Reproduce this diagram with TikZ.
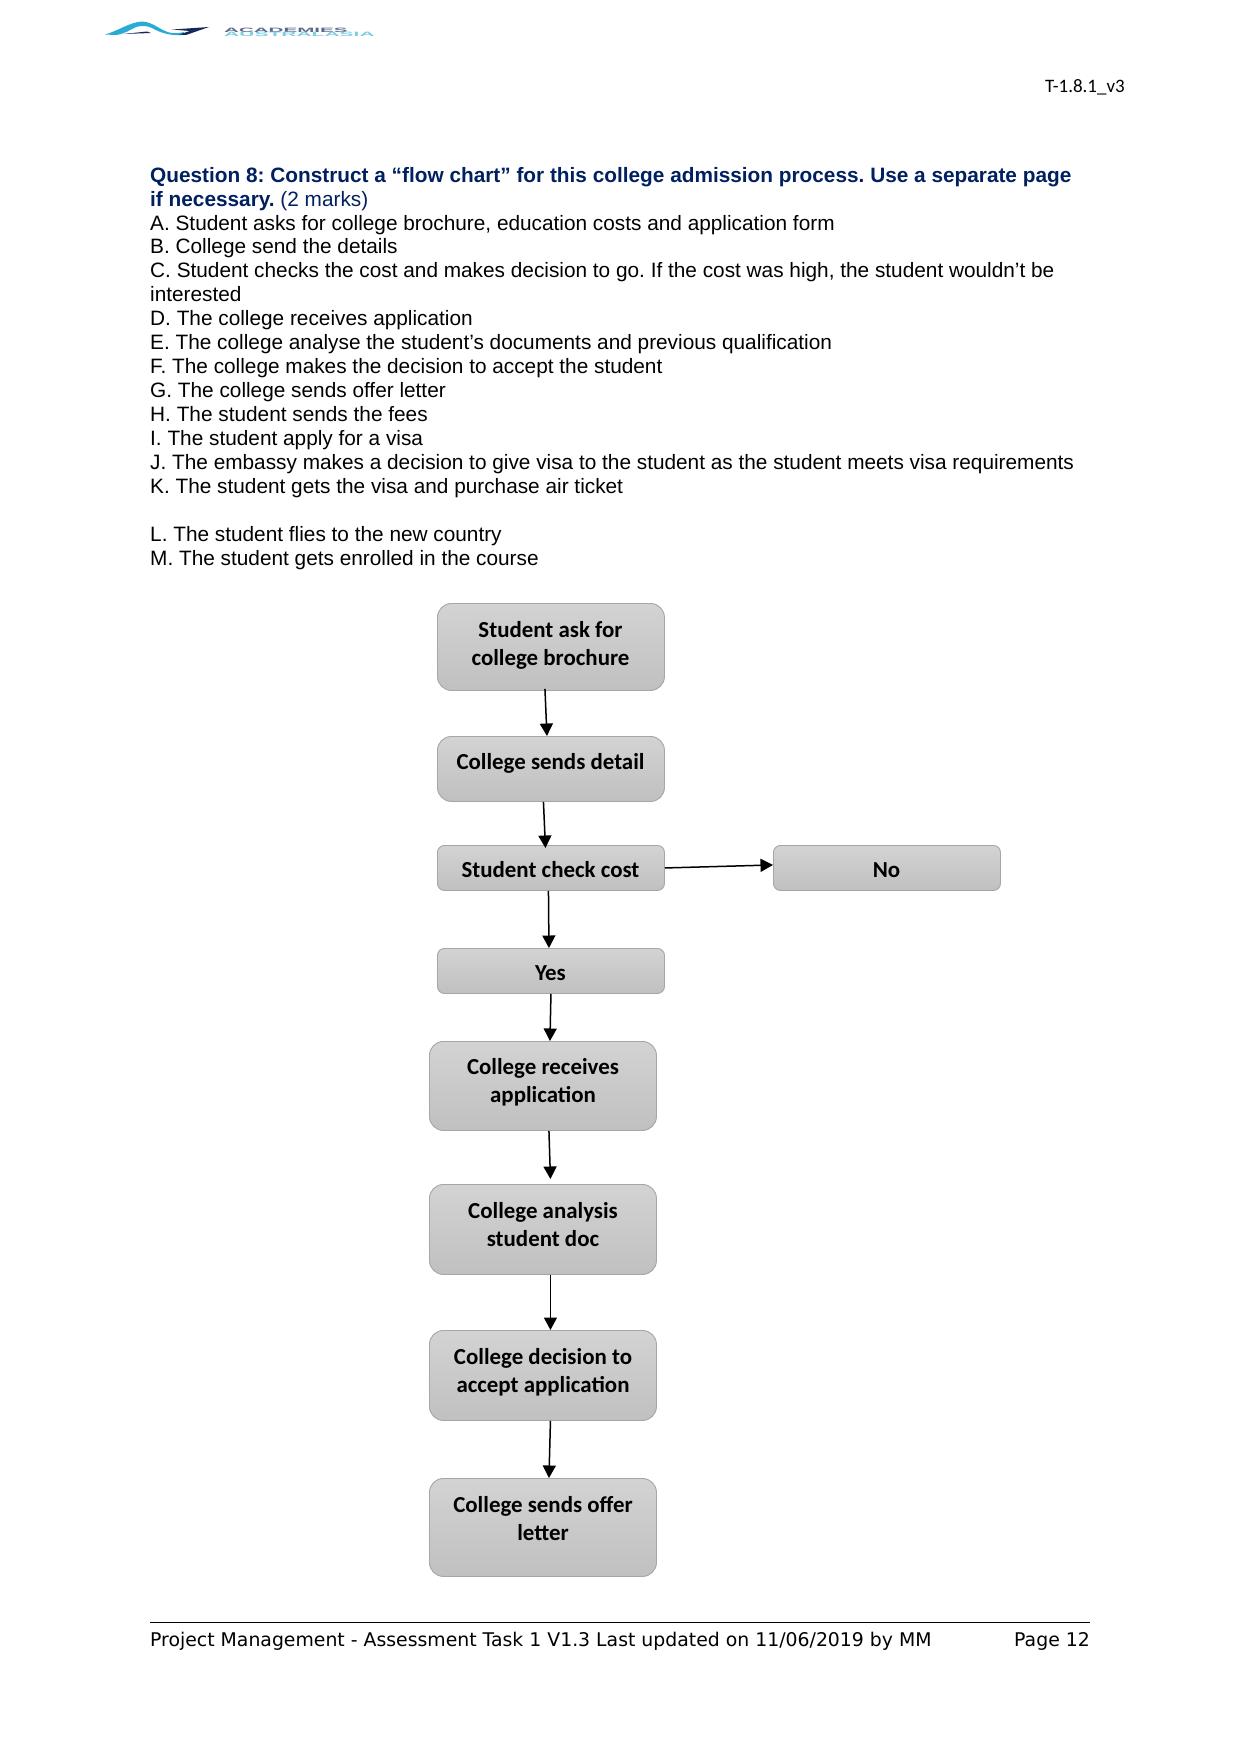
\documentclass[tikz,border=0pt]{standalone}
\usepackage{fontspec}
\setmainfont{Liberation Sans}
\newfontfamily\boxfont{Carlito}
\newfontfamily\footfont{DejaVu Sans}
\usetikzlibrary{arrows.meta}
\definecolor{navy}{HTML}{002060}
\definecolor{boxedge}{HTML}{A6A6A6}
\definecolor{boxtop}{HTML}{D3D3D3}
\definecolor{boxbot}{HTML}{C0C0C0}
\definecolor{logoblue}{HTML}{29ABD4}
\definecolor{logonavy}{HTML}{14285A}
\tikzset{
  x=1pt,y=-1pt,
  stepbox/.style={draw=boxedge,line width=0.9pt,rounded corners=#1,top color=boxtop,bottom color=boxbot,inner sep=0pt},
  stepbox/.default=14pt,
  boxlabel/.style={anchor=center,inner sep=0pt,align=center,font=\boxfont\bfseries\fontsize{22.9}{28}\selectfont},
  flow/.style={line width=1.5pt,-{Triangle[length=12.5pt,width=13pt]}},
  bodyline/.style={anchor=base west,inner sep=0pt,font=\frenchspacing\fontsize{20.8}{24}\selectfont,text=black},
  headline/.style={bodyline,text=navy},
}
\begin{document}
\begin{tikzpicture}
\useasboundingbox (0,0) rectangle (1241,1754);

% logo
\fill[logoblue] (105,34.5) .. controls (118,31) and (130,22) .. (142,21.5) .. controls (153,21.5) and (162,32) .. (172,33)
  .. controls (176,33.5) and (180,33) .. (184,32) -- (182,35) .. controls (172,36) and (160,33) .. (152,28)
  .. controls (147,25.5) and (141,25.5) .. (136,27) .. controls (130,30) and (124,34) .. (116,35) -- cycle;
\fill[logonavy] (123,34) -- (147,31.5) -- (151,33) -- cycle;
\fill[logonavy] (172,29.5) -- (209,27) -- (186,35) -- (179,34.5) -- (190,31) -- cycle;
\node[anchor=base west,inner sep=0pt,text=logonavy!70!white] (logoa) at (224,32)
  {\scalebox{1.37}[0.42]{\bfseries\fontsize{15}{15}\selectfont ACADEMIES}};
\node[anchor=base west,inner sep=0pt,text=logoblue!60!white] (logob) at (224,36)
  {\scalebox{1.40}[0.42]{\bfseries\fontsize{15}{15}\selectfont AUSTRALASIA}};

% document reference
\node[anchor=base east,inner sep=0pt,font=\boxfont\fontsize{19}{20}\selectfont] (ref) at (1125,92) {T-1.8.1\_v3};

% question text
\node[headline] (q1) at (150,182) {\bfseries Question 8: Construct a “flow chart” for this college admission process. Use a separate page};
\node[headline] (q2) at (150,206) {\bfseries if necessary. \mdseries (2 marks)};
\node[bodyline] (la) at (150,230) {A. Student asks for college brochure, education costs and application form};
\node[bodyline] (lb) at (150,253.5) {B. College send the details};
\node[bodyline] (lc) at (150,277.5) {C. Student checks the cost and makes decision to go. If the cost was high, the student wouldn’t be};
\node[bodyline] (lc2) at (150,301.5) {interested};
\node[bodyline] (ld) at (150,325.5) {D. The college receives application};
\node[bodyline] (le) at (150,349) {E. The college analyse the student’s documents and previous qualification};
\node[bodyline] (lf) at (150,373) {F. The college makes the decision to accept the student};
\node[bodyline] (lg) at (150,397) {G. The college sends offer letter};
\node[bodyline] (lh) at (150,421) {H. The student sends the fees};
\node[bodyline] (li) at (150,445) {I. The student apply for a visa};
\node[bodyline] (lj) at (150,469) {J. The embassy makes a decision to give visa to the student as the student meets visa requirements};
\node[bodyline] (lk) at (150,493) {K. The student gets the visa and purchase air ticket};
\node[bodyline] (ll) at (150,541) {L. The student flies to the new country};
\node[bodyline] (lm) at (150,565) {M. The student gets enrolled in the course};

% flow chart boxes
\node[stepbox,minimum width=227pt,minimum height=87pt,anchor=north west] (s1) at (437,603) {};
\node[stepbox,minimum width=227pt,minimum height=65pt,anchor=north west] (s2) at (437,736) {};
\node[stepbox=7pt,minimum width=227pt,minimum height=45pt,anchor=north west] (s3) at (437,845) {};
\node[stepbox=7pt,minimum width=227pt,minimum height=45pt,anchor=north west] (no) at (773,845) {};
\node[stepbox=7pt,minimum width=227pt,minimum height=45pt,anchor=north west] (yes) at (437,948) {};
\node[stepbox,minimum width=227pt,minimum height=89pt,anchor=north west] (s4) at (429,1041) {};
\node[stepbox,minimum width=227pt,minimum height=90pt,anchor=north west] (s5) at (429,1184) {};
\node[stepbox,minimum width=227pt,minimum height=90pt,anchor=north west] (s6) at (429,1330) {};
\node[stepbox,minimum width=227pt,minimum height=98pt,anchor=north west] (s7) at (429,1478) {};

% box labels
\node[boxlabel] (t1) at (550.5,645.5) {Student ask for\\college brochure};
\node[boxlabel] (t2) at (550.5,763.5) {College sends detail};
\node[boxlabel] (t3) at (550.5,870) {Student check cost};
\node[boxlabel] (tno) at (886.5,870) {No};
\node[boxlabel] (tyes) at (550.5,973) {Yes};
\node[boxlabel] (t4) at (543,1082) {College receives\\application};
\node[boxlabel] (t5) at (543,1225) {College analysis\\student doc};
\node[boxlabel] (t6) at (543,1372) {College decision to\\accept application};
\node[boxlabel] (t7) at (543,1519) {College sends offer\\letter};

% connectors
\draw[flow] ([xshift=-6pt,yshift=2pt]s1.south) -- ([xshift=-4pt]s2.north);
\draw[flow] ([xshift=-7.5pt]s2.south) -- ([xshift=-5.5pt,yshift=-3pt]s3.north);
\draw[flow] ([xshift=-2.5pt]s3.south) -- ([xshift=-2pt]yes.north);
\draw[flow] (s3.east) -- ([yshift=3pt]no.west);
\draw[flow] (yes.south) -- ([xshift=7pt]s4.north);
\draw[flow] ([xshift=6pt]s4.south) -- ([xshift=7.5pt,yshift=5pt]s5.north);
\draw[flow] ([xshift=7.5pt]s5.south) -- ([xshift=7.5pt]s6.north);
\draw[flow] ([xshift=7.5pt]s6.south) -- ([xshift=6pt]s7.north);

% footer
\draw[line width=1pt] (150,1622) coordinate (fl) -- (1090,1622) coordinate (fr);
\node[anchor=base west,inner sep=0pt,font=\footfont\fontsize{18.85}{20}\selectfont] (foot) at (150,1646) {Project Management - Assessment Task 1 V1.3 Last updated on 11/06/2019 by MM};
\node[anchor=base east,inner sep=0pt,font=\footfont\fontsize{18.85}{20}\selectfont] (page) at (1090,1646) {Page 12};
\end{tikzpicture}
\end{document}
